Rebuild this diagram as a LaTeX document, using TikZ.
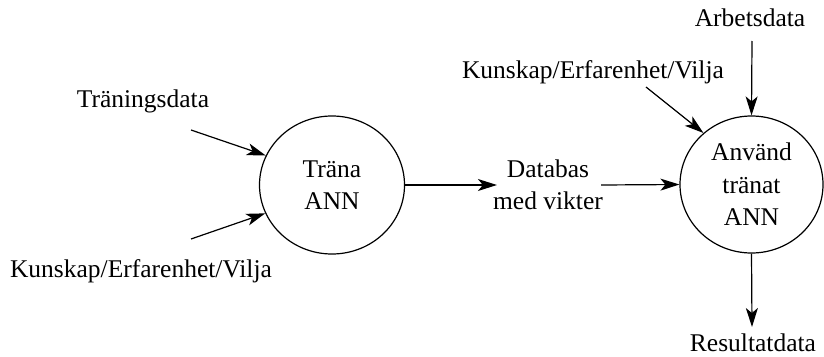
\documentclass[tikz,border=0pt]{standalone}
\usepackage{fontspec}
\setmainfont{Liberation Serif}
\usetikzlibrary{shapes.geometric,arrows.meta}
\tikzset{
  proc/.style={draw, ellipse, line width=1.2pt, inner sep=0pt, align=center,
    minimum width=145pt, minimum height=138pt},
  lbl/.style={inner sep=0pt, align=center},
  flow/.style={line width=1.2pt, -{Stealth[length=19pt,width=12pt,inset=5pt]}},
}
\begin{document}
\begin{tikzpicture}[x=1pt,y=-1pt,font=\fontsize{25.5}{32.5}\selectfont]
\useasboundingbox (0,0) rectangle (824,356);
\node[proc] (train) at (332,185) {Träna\\ANN};
\node[proc, minimum width=143pt, minimum height=137pt] (use) at (751.5,184.5) {Använd\\tränat\\ANN};
\node[lbl] (tdata) at (143,101) {Träningsdata};
\node[lbl] (know1) at (141,271) {Kunskap/Erfarenhet/Vilja};
\node[lbl] (db) at (548,185) {Databas\\med vikter};
\node[lbl] (know2) at (593,72) {Kunskap/Erfarenhet/Vilja};
\node[lbl] (work) at (750,18) {Arbetsdata};
\node[lbl] (res) at (753,343) {Resultatdata};
\coordinate (tdataS) at (191,130);
\coordinate (know1S) at (191,239);
\coordinate (know2S) at (646,87);
\coordinate (workS) at (752,41);
\coordinate (resE) at (752,327);
\draw[flow] (tdataS) -- (train.156);
\draw[flow] (know1S) -- (train.203);
\draw[flow] (train.east) -- ([xshift=4pt]db.west);
\draw[flow] ([xshift=-2pt]db.east) -- (use.west);
\draw[flow] (know2S) -- (use.133);
\draw[flow] (workS) -- (use.north);
\draw[flow] (use.south) -- (resE);
\end{tikzpicture}
\end{document}
